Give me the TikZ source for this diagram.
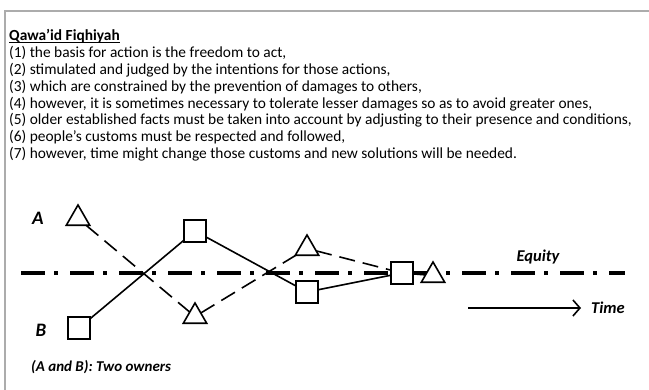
\documentclass[tikz,border=0pt]{standalone}
\usepackage{fontspec}
\setmainfont{Carlito}
\usetikzlibrary{shapes.geometric,arrows.meta}
\tikzset{
  txt/.style={anchor=base west,inner sep=0pt,font=\fontsize{15.4}{16.8}\selectfont},
  tri/.style={regular polygon,regular polygon sides=3,draw,fill=white,line width=1.6pt,minimum size=27pt,inner sep=0pt,outer sep=0pt},
  sq/.style={rectangle,draw,fill=white,line width=1.6pt,minimum size=22pt,inner sep=0pt,outer sep=0pt},
  solidpath/.style={line width=1.6pt},
  dashpath/.style={line width=1.6pt,dash pattern=on 16pt off 8pt},
  equity/.style={line width=3.6pt,dash pattern=on 24pt off 9pt on 4pt off 12pt},
  lbl/.style={inner sep=0pt,font=\fontsize{16.5}{18}\selectfont\bfseries\itshape},
  biglbl/.style={inner sep=0pt,font=\fontsize{19}{21}\selectfont\bfseries\itshape},
}
\begin{document}
\begin{tikzpicture}[x=1pt,y=-1pt]
\useasboundingbox (0,0) rectangle (649,390);
\draw[gray!65,line width=1.8pt] (5,390) -- (5,11) -- (649,11);
% text
\node[txt] (t0) at (9,40.5) {\textbf{Qawa’id Fiqhiyah}};
\draw[line width=1pt] ([yshift=-1.8pt]t0.base west) -- ([yshift=-1.8pt]t0.base east);
\node[txt] (t1) at (9,57.8) {(1) the basis for action is the freedom to act,};
\node[txt] (t2) at (9,74.6) {(2) stimulated and judged by the intentions for those actions,};
\node[txt] (t3) at (9,91.4) {(3) which are constrained by the prevention of damages to others,};
\node[txt] (t4) at (9,108.2) {(4) however, it is sometimes necessary to tolerate lesser damages so as to avoid greater ones,};
\node[txt] (t5) at (9,125) {(5) older established facts must be taken into account by adjusting to their presence and conditions,};
\node[txt] (t6) at (9,141.8) {(6) people’s customs must be respected and followed,};
\node[txt] (t7) at (9,158.6) {(7) however, time might change those customs and new solutions will be needed.};
% equity line
\coordinate (e0) at (21,273);
\coordinate (e1) at (625,273);
\draw[equity] (e0) -- (e1);
% nodes
\node[tri] (tA) at (78,218.5) {};
\node[tri] (tL) at (195,316.5) {};
\node[tri] (tM) at (307,248.5) {};
\node[tri] (tR) at (433,275.5) {};
\node[sq] (sB) at (79,328) {};
\node[sq] (sT) at (195,231) {};
\node[sq] (sL) at (307,292) {};
\node[sq] (sR) at (402,273) {};
% paths
\draw[dashpath] (tA) -- (tL);
\draw[dashpath] (tL) -- (tM);
\draw[dashpath] (tM) -- (sR);
\draw[dashpath] (sR) -- (tR);
\draw[solidpath] (sB) -- (sT);
\draw[solidpath] (sT) -- (sL);
\draw[solidpath] (sL) -- (sR);
% labels
\node[biglbl] (A) at (38,218) {A};
\node[biglbl] (B) at (41,330) {B};
\node[lbl] (eq) at (538,257) {Equity};
\node[lbl] (time) at (608,308) {Time};
\coordinate (ta0) at (468,308);
\coordinate (ta1) at (581,308);
\draw[line width=1.6pt,-{Straight Barb[length=7pt,width=16pt,line width=1.6pt]}] (ta0) -- (ta1);
\node[anchor=west,inner sep=0pt,font=\fontsize{15}{17}\selectfont\bfseries\itshape] (own) at (31,367) {(A and B): Two owners};
\end{tikzpicture}
\end{document}
